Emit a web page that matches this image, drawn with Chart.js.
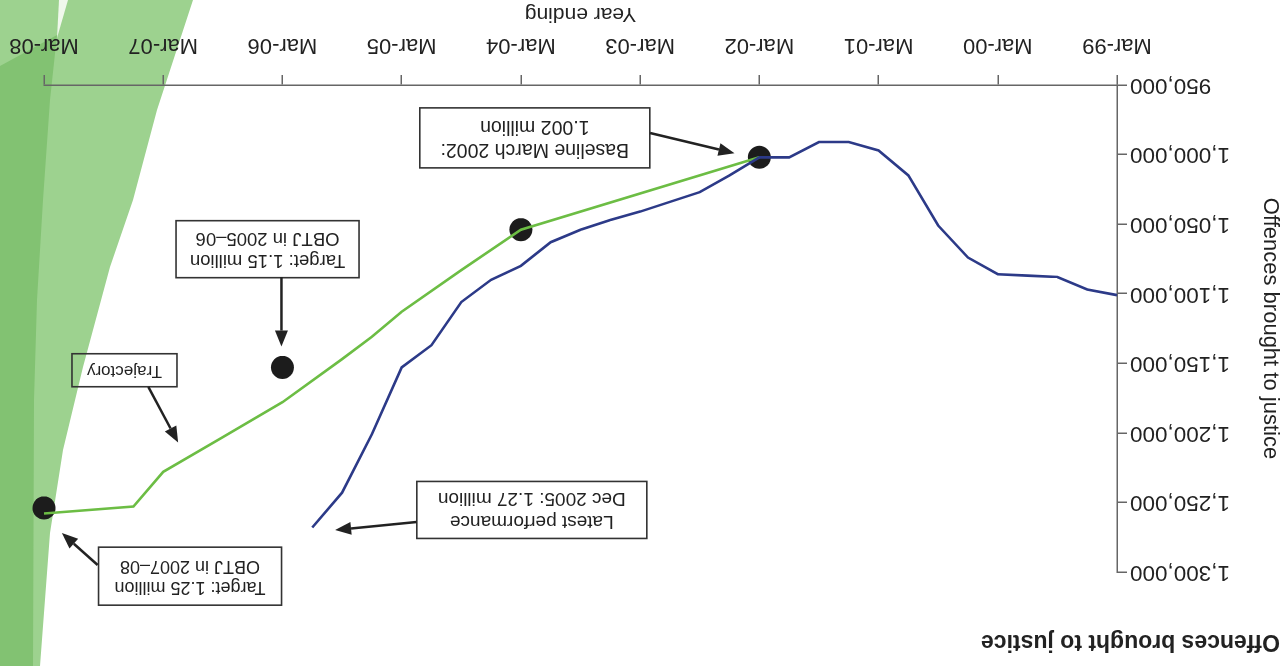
<!DOCTYPE html>
<html>
<head>
<meta charset="utf-8">
<title>Offences brought to justice</title>
<script src="https://cdn.jsdelivr.net/npm/chart.js@4.4.1/dist/chart.umd.min.js"></script>
<style>
  html, body { margin: 0; padding: 0; background: #fff; overflow: hidden; }
  /* the source page is printed upside down */
  #wrap { width: 1283px; height: 666px; transform: rotate(180deg); }
</style>
</head>
<body>
<div id="wrap"><canvas id="obtjChart" width="1283" height="666"></canvas></div>
<script>
// Year ending tick labels (x is months after Mar-99)
const yearLabels = ["Mar-99", "Mar-00", "Mar-01", "Mar-02", "Mar-03", "Mar-04", "Mar-05", "Mar-06", "Mar-07", "Mar-08"];
const yTicks = [950000, 1000000, 1050000, 1100000, 1150000, 1200000, 1250000, 1300000];

// Latest performance, quarterly (Mar-99 .. Dec-05)
const actualMonths = [0, 3, 6, 9, 12, 15, 18, 21, 24, 27, 30, 33, 36, 39, 42, 45, 48, 51, 54, 57, 60, 63, 66, 69, 72, 75, 78, 81];
const actualValues = [1101000, 1097000, 1088000, 1087000, 1086000, 1074000, 1051000, 1015000, 997000, 991000, 991000, 1002000, 1002000,
  1015000, 1027000, 1034000, 1041000, 1047000, 1054000, 1063000, 1080000, 1090000, 1106000, 1137000, 1153000, 1201000, 1243000, 1268000];

// Trajectory from the 2002 baseline to the 2007-08 target
const trajMonths = [36, 60, 66, 72, 75, 78, 84, 90, 96, 99, 108];
const trajValues = [1002000, 1054000, 1083000, 1113000, 1131000, 1147000, 1178000, 1203000, 1228000, 1253000, 1258000];

// Baseline, Mar-04 and target markers
const markerMonths = [36, 60, 84, 108];
const markerValues = [1002000, 1054000, 1153000, 1254000];

// Call-out boxes: centre, arrow tail and tip in data units
const notes = [
  { lines: ["Baseline March 2002:", "1.002 million"], at: [58.6, 988000], from: [47.0, 984500], to: [38.5, 999000], w: 230, h: 60, size: 19.5 },
  { lines: ["Target: 1.15 million", "OBTJ in 2005\u201306"], at: [85.5, 1068000], from: [84.1, 1088000], to: [84.1, 1138000], w: 183, h: 57, size: 18.5 },
  { lines: ["Trajectory"], at: [99.9, 1155000], from: [97.5, 1167000], to: [94.5, 1207000], w: 105, h: 33, size: 17 },
  { lines: ["Latest performance", "Dec 2005: 1.27 million"], at: [58.9, 1255400], from: [70.5, 1264000], to: [78.7, 1269800], w: 230, h: 57, size: 19 },
  { lines: ["Target: 1.25 million", "OBTJ in 2007\u201308"], at: [93.3, 1303000], from: [102.6, 1295000], to: [106.2, 1272000], w: 183, h: 58, size: 18 }
];

const FONT = "'Liberation Sans', Arial, sans-serif";
Chart.defaults.font.family = FONT;
Chart.defaults.color = "#222";

const toPoints = (xs, ys) => xs.map((x, i) => ({ x: x, y: ys[i] }));
const withCommas = v => String(v).replace(/\B(?=(\d{3})+(?!\d))/g, ",");

// green page decoration down the right edge
const bands = {
  id: "bands",
  beforeDraw(chart) {
    const { ctx, width: w } = chart;
    const shape = (pts, fill) => {
      ctx.beginPath();
      pts.forEach((p, i) => i ? ctx.lineTo(p[0], p[1]) : ctx.moveTo(p[0], p[1]));
      ctx.closePath();
      ctx.fillStyle = fill;
      ctx.fill();
    };
    ctx.save();
    shape([[1090, 666], [1126, 556], [1150, 466], [1173, 399], [1200, 299], [1220, 216], [1233, 133], [1243, 0], [w, 0], [w, 666]], "#9dd28f");
    shape([[w, 600], [1226, 631], [1233, 566], [1240, 466], [1246, 366], [1249, 266], [1250, 0], [w, 0]], "#82c272");
    shape([[1215, 666], [1224, 666], [1226, 628]], "#f0f8ec");
    ctx.restore();
  }
};

const heading = {
  id: "heading",
  afterDraw(chart) {
    const ctx = chart.ctx;
    ctx.save();
    ctx.font = "bold 23px " + FONT;
    ctx.fillStyle = "#222";
    ctx.textBaseline = "middle";
    ctx.fillText("Offences brought to justice", 3, 25);
    ctx.restore();
  }
};

function arrow(ctx, x1, y1, x2, y2) {
  const a = Math.atan2(y2 - y1, x2 - x1), len = 16, half = 6.5;
  const bx = x2 - len * Math.cos(a), by = y2 - len * Math.sin(a);
  ctx.beginPath();
  ctx.moveTo(x1, y1);
  ctx.lineTo(bx, by);
  ctx.stroke();
  ctx.beginPath();
  ctx.moveTo(x2, y2);
  ctx.lineTo(bx + half * Math.sin(a), by - half * Math.cos(a));
  ctx.lineTo(bx - half * Math.sin(a), by + half * Math.cos(a));
  ctx.closePath();
  ctx.fill();
}

const callouts = {
  id: "callouts",
  afterDraw(chart) {
    const { ctx, scales: { x, y } } = chart;
    ctx.save();
    notes.forEach(n => {
      const cx = x.getPixelForValue(n.at[0]), cy = y.getPixelForValue(n.at[1]);
      ctx.strokeStyle = "#333";
      ctx.lineWidth = 1.6;
      ctx.strokeRect(cx - n.w / 2, cy - n.h / 2, n.w, n.h);
      ctx.fillStyle = "#222";
      ctx.font = n.size + "px " + FONT;
      ctx.textAlign = "center";
      ctx.textBaseline = "middle";
      const lh = n.size * 1.18;
      n.lines.forEach((t, i) => ctx.fillText(t, cx, cy + (i - (n.lines.length - 1) / 2) * lh));
      ctx.strokeStyle = "#222";
      ctx.lineWidth = 2.5;
      arrow(ctx, x.getPixelForValue(n.from[0]), y.getPixelForValue(n.from[1]),
                 x.getPixelForValue(n.to[0]), y.getPixelForValue(n.to[1]));
    });
    ctx.restore();
  }
};

const axisGrid = { display: true, drawOnChartArea: false, tickLength: 10, color: "#666", lineWidth: 1.5 };
const axisBorder = { color: "#666", width: 1.5 };

const ctx = document.getElementById("obtjChart").getContext("2d");
new Chart(ctx, {
  type: "line",
  data: {
    datasets: [
      {
        label: "Latest performance",
        data: toPoints(actualMonths, actualValues),
        borderColor: "#2c3a88",
        borderWidth: 2.6,
        pointRadius: 0,
        tension: 0,
        clip: false
      },
      {
        label: "Trajectory",
        data: toPoints(trajMonths, trajValues),
        borderColor: "#6cbd44",
        borderWidth: 2.6,
        pointRadius: 0,
        tension: 0,
        clip: false
      },
      {
        label: "Targets",
        data: toPoints(markerMonths, markerValues),
        showLine: false,
        pointRadius: 11.5,
        pointBackgroundColor: "#1c1c1c",
        pointBorderWidth: 0,
        clip: false
      }
    ]
  },
  options: {
    responsive: false,
    animation: false,
    layout: { padding: { top: 94, right: 44, bottom: 0, left: 0 } },
    plugins: {
      legend: { display: false },
      tooltip: { enabled: false }
    },
    scales: {
      x: {
        type: "linear",
        min: 0,
        max: 108,
        afterBuildTicks: s => { s.ticks = yearLabels.map((_, i) => ({ value: i * 12 })); },
        afterFit: s => { s.height = 85; s.paddingRight = 0; s.paddingLeft = 0; },
        ticks: {
          callback: v => yearLabels[Math.round(v / 12)],
          font: { size: 22 },
          padding: 17,
          maxRotation: 0,
          autoSkip: false
        },
        grid: axisGrid,
        border: axisBorder,
        title: { display: true, text: "Year ending", font: { size: 21 }, padding: { top: 0, bottom: 1 } }
      },
      y: {
        min: 950000,
        max: 1300000,
        afterBuildTicks: s => { s.ticks = yTicks.map(v => ({ value: v })); },
        afterFit: s => { s.width = 166; },
        ticks: {
          callback: v => withCommas(v),
          font: { size: 22.5 },
          padding: 3,
          autoSkip: false
        },
        grid: axisGrid,
        border: axisBorder,
        title: { display: true, text: "Offences brought to justice", font: { size: 22 }, padding: 0 }
      }
    }
  },
  plugins: [bands, heading, callouts]
});
</script>
</body>
</html>
